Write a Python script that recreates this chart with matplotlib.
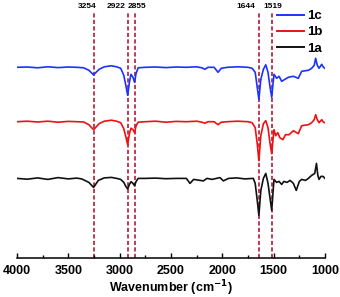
import matplotlib
matplotlib.use("Agg")
import matplotlib.pyplot as plt
import numpy as np

plt.rcParams['font.family'] = ['Liberation Sans', 'DejaVu Sans']
plt.rcParams['font.weight'] = 'bold'
plt.rcParams['mathtext.default'] = 'bf'

# ---- data (wavenumber in cm^-1, relative transmittance offset from baseline) ----
wn_1c = [4000, 3900, 3800, 3700, 3600, 3500, 3420, 3350, 3300, 3254, 3200, 3150, 3080, 3030,
         2990, 2960, 2940, 2922, 2905, 2890, 2870, 2855, 2840, 2820, 2750, 2650, 2550, 2450,
         2350, 2250, 2200, 2170, 2140, 2080, 2042, 2010, 1950, 1850, 1750, 1710, 1680, 1660,
         1644, 1625, 1600, 1577, 1555, 1535, 1519, 1497, 1471, 1448, 1422, 1390, 1357, 1308,
         1260, 1227, 1162, 1130, 1105, 1091, 1075, 1058, 1032, 1015, 1000]
t_1c = [0, 0.3, -0.5, 0.5, -0.3, 0.3, 0, -0.5, -3, -7.5, -2, 0.5, 1.5, 0.5,
        -1, -8, -18, -28, -15, -7, -10, -15, -6, -0.5, 0, 0.3, -0.3, 0.3,
        0, 0.5, -0.5, -2, 0, 0, -5, -1, 0, 0.5, 0, -1, -5, -20,
        -32, -12, -2, 2.5, -5, -20, -30, -7, -11, -9, -14, -12, -10, -9,
        -11, -4, -3, -1, 2, 9, 2, -1, 3, 0, -1]

wn_1b = [4000, 3900, 3800, 3700, 3600, 3500, 3420, 3350, 3300, 3254, 3200, 3150, 3080, 3030,
         2990, 2960, 2940, 2922, 2905, 2890, 2870, 2855, 2840, 2820, 2750, 2650, 2550, 2450,
         2350, 2250, 2200, 2170, 2140, 2080, 2042, 2010, 1950, 1850, 1750, 1710, 1680, 1660,
         1644, 1625, 1600, 1577, 1555, 1535, 1519, 1497, 1480, 1460, 1440, 1410, 1385, 1350,
         1308, 1260, 1227, 1162, 1130, 1105, 1091, 1075, 1058, 1032, 1015, 1000]
t_1b = [0, 0.5, -0.3, 0.5, -0.5, 0.3, 0, -0.3, -3, -8, -2, 0.5, 1.5, 0.5,
        -1, -7, -15, -23, -12, -6.5, -8, -11, -4, -0.5, 0, 0.5, -0.5, 0.3,
        0, 0.5, -0.5, -1.5, 0, 0, -3, -0.5, 0, 0.5, 0, -1, -6, -22,
        -39, -14, -2, 1, -6, -22, -32, -8, -14, -11, -16, -18, -13, -13,
        -9, -12, -4, -3, -1, 2, 7, 2, -1, 2, -0.5, -1]

wn_1a = [4000, 3900, 3800, 3700, 3600, 3500, 3420, 3370, 3300, 3254, 3208, 3150, 3080, 3030,
         2990, 2960, 2940, 2922, 2905, 2890, 2870, 2855, 2840, 2820, 2750, 2650, 2550, 2450,
         2350, 2315, 2280, 2185, 2150, 2100, 2023, 1990, 1940, 1860, 1780, 1698, 1680, 1660,
         1644, 1625, 1600, 1577, 1555, 1535, 1519, 1497, 1471, 1448, 1422, 1400, 1370, 1340,
         1308, 1280, 1250, 1227, 1190, 1162, 1130, 1100, 1083, 1070, 1058, 1040, 1019, 1000]
t_1a = [0, -0.8, 0.5, -1, 0.8, -0.5, 0.3, -0.5, -4, -9, -2, 0.5, 1, 0,
        -1, -4, -8, -10.5, -6, -3.3, -5, -7.3, -3, 0, 0, 0.3, -0.3, 0,
        0, -5, -1, -2.5, 0, -1, 0.8, -2.5, 0, 0.5, -0.5, 0, -5, -22,
        -37, -12, 0, 5, -5, -20, -32, -1, -4, -3, -6, -3, -4, -2,
        -5, -12, -3, -1, -2, 0, 3, 5, 15, 3, -1, 2, 2, 0]

series = [("1c", wn_1c, t_1c, "#1a33ff", 190.7),
          ("1b", wn_1b, t_1b, "#ee1111", 136.3),
          ("1a", wn_1a, t_1a, "#111111", 79.6)]

peaks = [3254, 2922, 2855, 1644, 1519]
peak_labels = ["3254", "2922", "2855", "1644", "1519"]
xticks = [4000, 3500, 3000, 2500, 2000, 1500, 1000]

# ---- figure ----
W, H = 340, 297
fig = plt.figure(figsize=(W / 100, H / 100), dpi=100)
ax = fig.add_axes([17 / W, (H - 258) / H, 308 / W, 258 / H])
ax.set_xlim(4000, 1000)
ax.set_ylim(0, 258)

# label x positions (pixels in figure) — placed to avoid overlap as in original
label_px = [87, 116, 137, 246, 273]
for p, lab, lx in zip(peaks, peak_labels, label_px):
    ax.vlines(p, 0, 245, colors="#b01c38", linewidth=1.2,
              linestyles=(0, (2.5, 1.4)), zorder=1)
    ax.text(lx / W, 1 - 6 / H, lab, transform=fig.transFigure,
            ha="center", va="center", fontsize=6, fontweight="bold")

for name, wn, t, c, base in series:
    ax.plot(wn, np.array(t) + base, color=c, lw=1.2, label=name, zorder=2)

for s in ["left", "right", "top"]:
    ax.spines[s].set_visible(False)
ax.spines["bottom"].set_linewidth(1.1)
ax.set_yticks([])
ax.set_xticks(xticks)
ax.set_xticks(np.arange(1250, 4000, 500), minor=True)
ax.tick_params(axis="x", which="major", direction="in", length=3.6, width=1.0,
               labelsize=9, pad=5)
ax.tick_params(axis="x", which="minor", direction="in", length=2.2, width=1.0)
for lab in ax.get_xticklabels():
    lab.set_fontweight("bold")
ax.set_xlabel(r"Wavenumber (cm$^{\mathbf{-1}}$)", fontsize=9,
              fontweight="bold", labelpad=1)

leg = ax.legend(loc="upper left", bbox_to_anchor=(277 / W, 1 - 10 / H),
                bbox_transform=fig.transFigure, frameon=False, fontsize=9.5,
                handlelength=2.05, handletextpad=0.25, labelspacing=0.3,
                borderpad=0, borderaxespad=0)
for t in leg.get_texts():
    t.set_fontweight("bold")
for h in leg.get_lines():
    h.set_linewidth(1.4)

fig.savefig("out.png", dpi=100)
